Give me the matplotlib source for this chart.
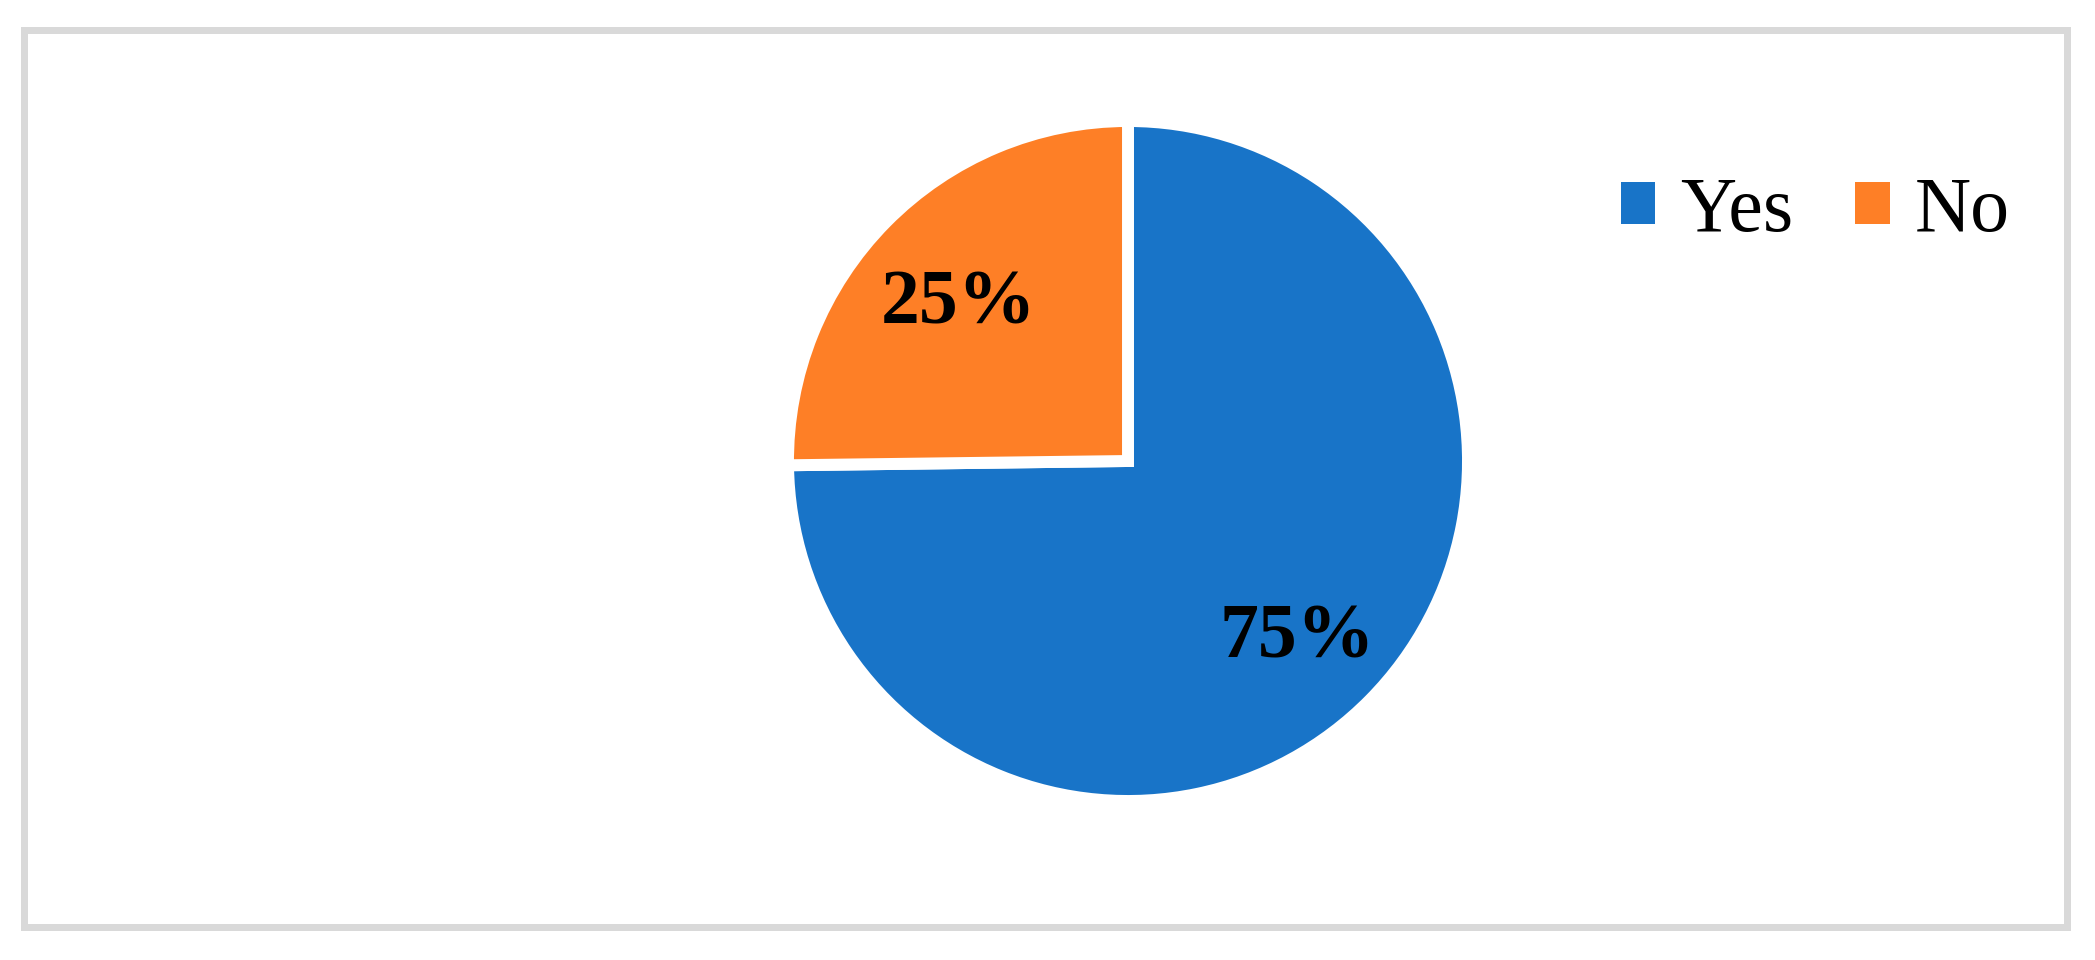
import numpy as np
import matplotlib.pyplot as plt
from matplotlib.patches import Rectangle

# data
labels = ['Yes', 'No']
shares = [74.8, 25.2]
colors = ['#1874c8', '#fe7f26']

plt.rcParams['font.family'] = 'serif'
plt.rcParams['font.serif'] = ['Liberation Serif', 'Times New Roman', 'DejaVu Serif']

W, H = 2095, 960
fig = plt.figure(figsize=(W / 100, H / 100), dpi=100)

# pie axes: square box centred on the pie
cx, cy, R = 1128, 461, 340
ax = fig.add_axes([(cx - R) / W, (H - cy - R) / H, 2 * R / W, 2 * R / H])
wedges, texts, autotexts = ax.pie(
    shares, colors=colors, startangle=90, counterclock=False,
    radius=1, autopct='%.0f%%', pctdistance=0.7,
    wedgeprops=dict(edgecolor='white', linewidth=8.6),
    textprops=dict(fontsize=56, fontweight='bold', color='black'))
# nudge percentage labels down a little (text box centre vs glyph centre)
for t in autotexts:
    x, y = t.get_position()
    t.set_position((x, y - 11 / R))
ax.set_xlim(-1, 1)
ax.set_ylim(-1, 1)
ax.set_aspect('equal')
ax.axis('off')

# legend
handles = [Rectangle((0, 0), 1, 1, facecolor=c, edgecolor='none') for c in colors]
fig.legend(handles, labels, loc='center left', bbox_to_anchor=(1582 / W, 1 - 212 / H),
           ncol=2, frameon=False, fontsize=56, borderpad=0, handlelength=0.44,
           handleheight=0.44, handletextpad=0.32, columnspacing=0.8)

# outer grey frame
fig.patches.append(Rectangle((23.5 / W, 1 - 926.5 / H), (2066.5 - 23.5) / W, (926.5 - 29.5) / H,
                             transform=fig.transFigure, fill=False,
                             edgecolor='#d9d9d9', linewidth=5.04))

fig.savefig('out.png', dpi=100)
